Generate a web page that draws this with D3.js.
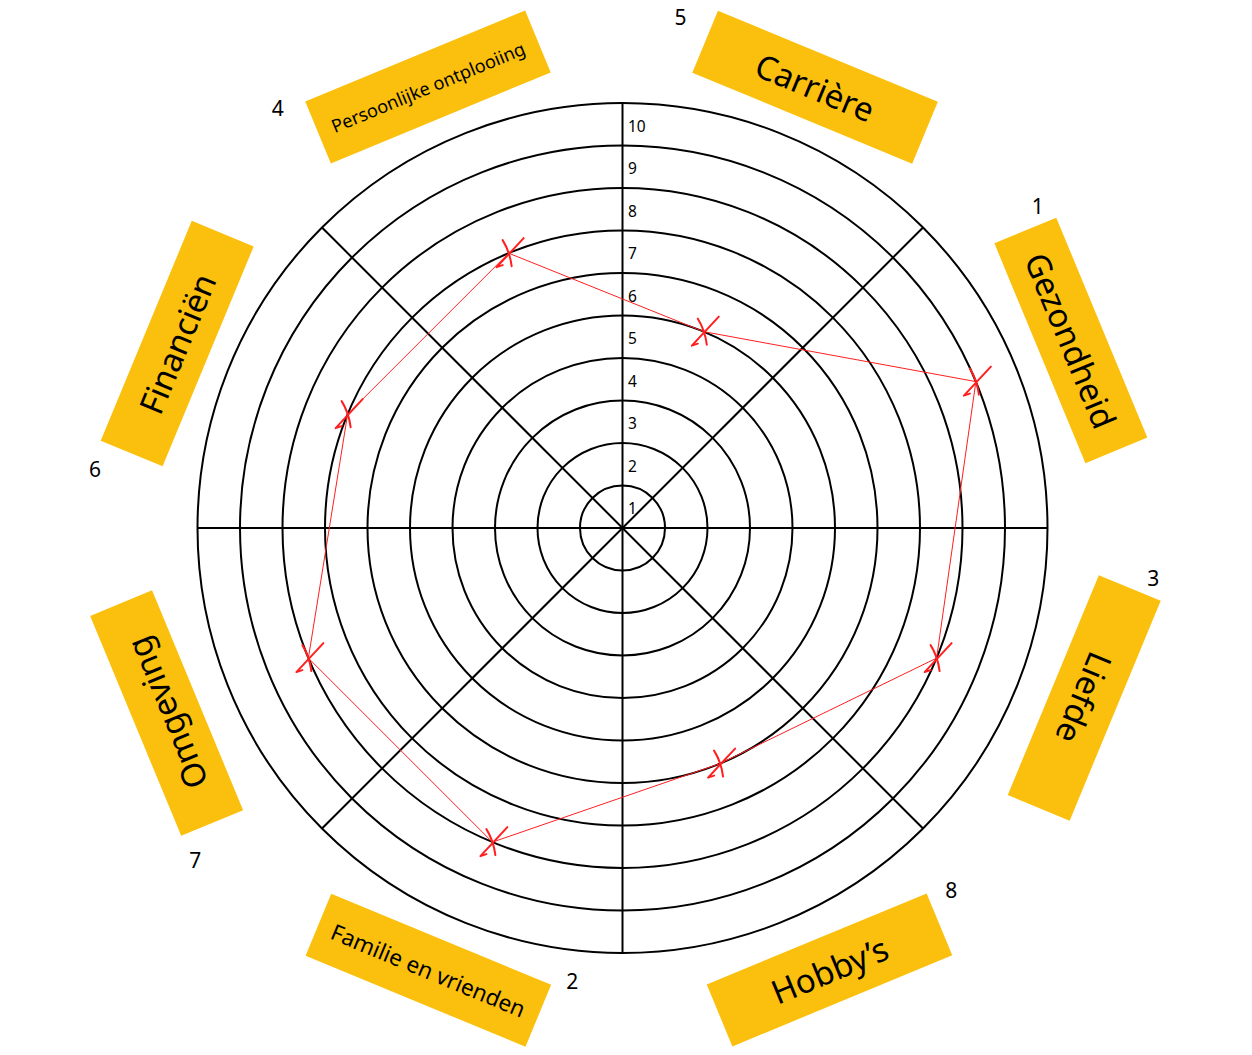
<!DOCTYPE html>
<html>
<head>
<meta charset="utf-8">
<script src="https://cdn.jsdelivr.net/npm/d3@7"></script>
<style>
    body { margin: 0; background: #fff; }
    text { font-family: "Noto Sans", "Open Sans", sans-serif; fill: #000; }
</style>
</head>
<body>
<div id="chart-area"></div>
<script>
// Levensgebieden, kloksgewijs vanaf boven
const categories = ["Carrière", "Gezondheid", "Liefde", "Hobby’s",
    "Familie en vrienden", "Omgeving", "Financiën", "Persoonlijke ontplooiing"];
// Score per gebied (0-10)
const scores = [5, 9, 8, 6, 8, 8, 7, 7];
// Prioriteit per gebied
const priorities = [5, 1, 3, 8, 2, 7, 6, 4];
// Ringen
const ringTicks = [1, 2, 3, 4, 5, 6, 7, 8, 9, 10];

const width = 1252, height = 1055;
const cx = 622.5, cy = 528;
const yellow = "#fbc00e";
const red = "#ff1f1f";

// Plaatsing van de gele labels (hoek in graden, straal) en van het nummer t.o.v. het label
const labelPlacement = {
    "Carrière":                 { a: 23.6,  r: 481, num: [-151, -13] },
    "Gezondheid":               { a: 67.3,  r: 486, num: [-137, -21] },
    "Liefde":                   { a: 110.2, r: 492, num: [-137, -18] },
    "Hobby’s":                  { a: 154.9, r: 488, num: [143, -27] },
    "Familie en vrienden":      { a: 203.7, r: 483, num: [137, -45] },
    "Omgeving":                 { a: 247.9, r: 492, num: [-147, -30] },
    "Financiën":                { a: 292.5, r: 482, num: [-147, -28] },
    "Persoonlijke ontplooiing": { a: 336.2, r: 482, num: [-147, -38] }
};

const data = categories.map((c, i) => ({ name: c, score: scores[i], prio: priorities[i] }));

const svg = d3.select("#chart-area")
    .append("svg")
    .attr("width", width)
    .attr("height", height);

svg.append("rect").attr("width", width).attr("height", height).attr("fill", "#fff");

// Schalen
const r = d3.scaleLinear().domain([0, 10]).range([0, 425]);
const angle = d3.scaleBand().domain(categories).range([0, 360]); // graden, 0 = boven
const mid = d => angle(d) + angle.bandwidth() / 2;
const rad = deg => deg * Math.PI / 180;
const polar = (radius, deg) => [radius * Math.sin(rad(deg)), -radius * Math.cos(rad(deg))];
const isFlipped = d => mid(d) > 135 && mid(d) < 225;
const textRot = d => isFlipped(d) ? mid(d) - 180 : mid(d);

const g = svg.append("g").attr("transform", `translate(${cx},${cy})`);

// Ringen
g.selectAll("circle.ring")
    .data(ringTicks)
    .enter()
    .append("circle")
    .attr("class", "ring")
    .attr("r", d => r(d))
    .attr("fill", "none")
    .attr("stroke", "#000")
    .attr("stroke-width", 2);

// Spaken op de grenzen van de sectoren
g.selectAll("line.spoke")
    .data(categories)
    .enter()
    .append("line")
    .attr("class", "spoke")
    .attr("x1", 0).attr("y1", 0)
    .attr("x2", d => polar(r(10), angle(d))[0])
    .attr("y2", d => polar(r(10), angle(d))[1])
    .attr("stroke", "#000")
    .attr("stroke-width", 2);

// Schaalgetallen langs de verticale as
g.selectAll("text.tick")
    .data(ringTicks)
    .enter()
    .append("text")
    .attr("class", "tick")
    .attr("x", 5.5)
    .attr("y", d => -r(d - 0.5) + 1.5)
    .attr("dominant-baseline", "central")
    .style("font-size", "15.5px")
    .text(d => d);

// Gele labels buiten de cirkel
const boxW = 238, boxH = 67;
const boxCenter = d => polar(labelPlacement[d.name].r, labelPlacement[d.name].a);

const labels = g.selectAll("g.label")
    .data(data)
    .enter()
    .append("g")
    .attr("class", "label")
    .attr("transform", d => {
        const [x, y] = boxCenter(d);
        return `translate(${x},${y}) rotate(${textRot(d.name)})`;
    });

labels.append("rect")
    .attr("x", -boxW / 2)
    .attr("y", -boxH / 2)
    .attr("width", boxW)
    .attr("height", boxH)
    .attr("fill", yellow);

labels.append("text")
    .attr("text-anchor", "middle")
    .attr("dominant-baseline", "central")
    .style("font-size", "33px")
    .text(d => d.name)
    .each(function () {
        const len = this.getComputedTextLength();
        if (len > 208) d3.select(this).style("font-size", (33 * 208 / len) + "px");
    });

// Prioriteitsnummers (rechtop)
g.selectAll("text.prio")
    .data(data)
    .enter()
    .append("text")
    .attr("class", "prio")
    .attr("text-anchor", "middle")
    .attr("dominant-baseline", "central")
    .style("font-size", "21px")
    .attr("transform", d => {
        const rot = rad(textRot(d.name));
        const [lx, ly] = labelPlacement[d.name].num;
        const [bx, by] = boxCenter(d);
        const x = bx + lx * Math.cos(rot) - ly * Math.sin(rot);
        const y = by + lx * Math.sin(rot) + ly * Math.cos(rot);
        return `translate(${x},${y})`;
    })
    .text(d => d.prio);

// Rode lijn tussen de scores
const line = d3.lineRadial()
    .angle(d => rad(mid(d.name)))
    .radius(d => r(d.score))
    .curve(d3.curveLinearClosed);

g.append("path")
    .datum(data)
    .attr("d", line)
    .attr("fill", "none")
    .attr("stroke", red)
    .attr("stroke-width", 1);

// Handgetekende kruisjes
const cross = "M15,-15 L-12,14 L-6,12 M-6,-13 Q1,-2 3,13";
g.selectAll("path.mark")
    .data(data)
    .enter()
    .append("path")
    .attr("class", "mark")
    .attr("transform", d => {
        const [x, y] = polar(r(d.score), mid(d.name));
        return `translate(${x},${y})`;
    })
    .attr("d", cross)
    .attr("fill", "none")
    .attr("stroke", red)
    .attr("stroke-width", 2)
    .attr("stroke-linecap", "round")
    .attr("stroke-linejoin", "round");
</script>
</body>
</html>
